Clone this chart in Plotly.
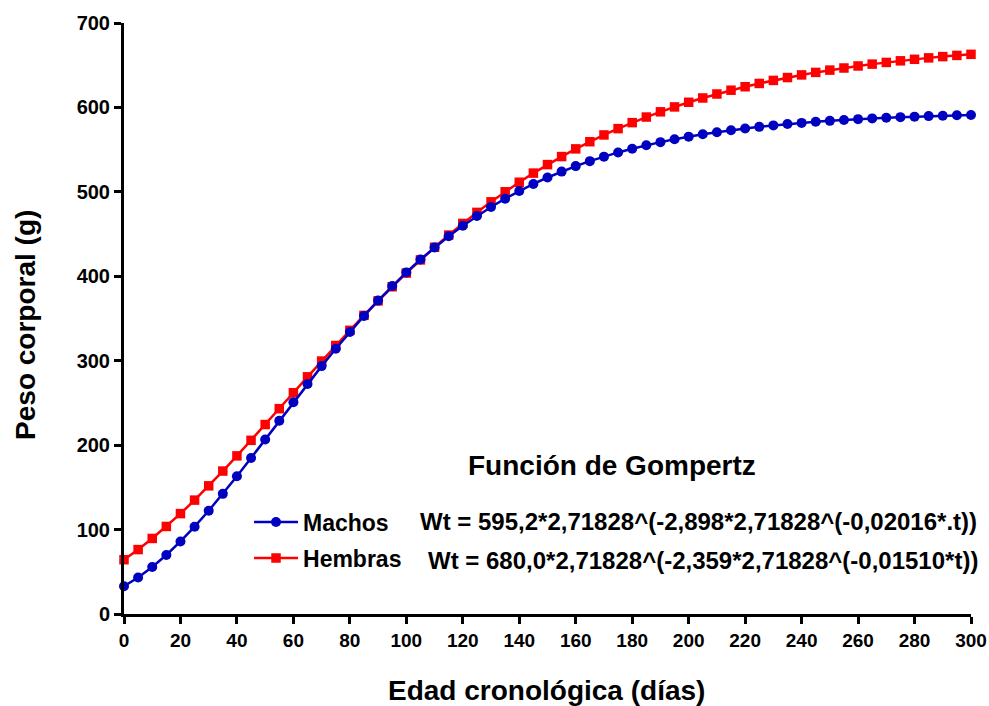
import plotly.graph_objects as go

# edad (días), cada 5 días
edad = list(range(0, 301, 5))

# peso corporal (g)
machos = [32.8, 43.3, 55.7, 69.9, 85.9, 103.4, 122.3, 142.3, 163.2, 184.8,
          206.7, 228.8, 250.8, 272.4, 293.6, 314.2, 334.1, 353.1, 371.2, 388.4,
          404.6, 419.9, 434.2, 447.5, 459.9, 471.4, 482.1, 491.9, 501.0, 509.4,
          517.0, 524.0, 530.5, 536.4, 541.7, 546.7, 551.1, 555.2, 558.9, 562.3,
          565.4, 568.2, 570.7, 573.0, 575.1, 577.0, 578.7, 580.3, 581.7, 583.0,
          584.1, 585.2, 586.1, 587.0, 587.8, 588.5, 589.1, 589.7, 590.2, 590.7,
          591.1]
hembras = [64.3, 76.3, 89.5, 103.7, 118.9, 134.9, 151.8, 169.3, 187.3, 205.7,
           224.4, 243.2, 262.1, 280.9, 299.6, 318.0, 336.0, 353.7, 370.9, 387.6,
           403.8, 419.4, 434.4, 448.8, 462.6, 475.7, 488.2, 500.1, 511.4, 522.2,
           532.3, 541.8, 550.9, 559.4, 567.4, 574.9, 582.0, 588.6, 594.8, 600.6,
           606.1, 611.2, 615.9, 620.4, 624.5, 628.4, 632.0, 635.4, 638.5, 641.5,
           644.2, 646.7, 649.1, 651.3, 653.3, 655.2, 657.0, 658.7, 660.2, 661.6,
           662.9]

formula_machos = "Wt = 595,2*2,71828^(-2,898*2,71828^(-0,02016*.t))"
formula_hembras = "Wt = 680,0*2,71828^(-2,359*2,71828^(-0,01510*t))"

fuente = "Liberation Sans, Arial, sans-serif"

fig = go.Figure()

fig.add_trace(go.Scatter(
    x=edad, y=hembras, mode="lines+markers", name="<b>Hembras</b>",
    line=dict(color="#ff0000", width=2.5),
    marker=dict(symbol="square", size=9.5, color="#ff0000"),
    legendgroup="h", legendrank=2, cliponaxis=False
))
fig.add_trace(go.Scatter(
    x=edad, y=machos, mode="lines+markers", name="<b>Machos</b>",
    line=dict(color="#0000c0", width=2.5),
    marker=dict(symbol="circle", size=10, color="#0000c0"),
    legendgroup="m", legendrank=1, cliponaxis=False
))

fig.update_layout(
    width=989, height=706,
    margin=dict(l=124, r=18, t=23, b=92),
    plot_bgcolor="white", paper_bgcolor="white",
    font=dict(family=fuente, color="black"),
    showlegend=True,
    legend=dict(
        x=0.1476, y=0.192, xanchor="left", yanchor="top",
        font=dict(size=23, family=fuente, color="black"),
        traceorder="grouped", tracegroupgap=3,
        bgcolor="rgba(0,0,0,0)", itemwidth=44
    ),
    xaxis=dict(
        range=[0, 300], tickmode="linear", tick0=0, dtick=20,
        showgrid=False, zeroline=False, automargin=False,
        showline=True, linecolor="black", linewidth=3,
        ticks="outside", ticklen=7, tickwidth=3, tickcolor="black",
        tickfont=dict(size=19, family=fuente),
        tickprefix="<b>", ticksuffix="</b>"
    ),
    yaxis=dict(
        range=[0, 700], tickmode="linear", tick0=0, dtick=100,
        showgrid=False, zeroline=False, automargin=False,
        showline=True, linecolor="black", linewidth=3,
        ticks="outside", ticklen=7, tickwidth=3, tickcolor="black",
        tickfont=dict(size=20, family=fuente),
        tickprefix="<b>", ticksuffix="</b>"
    ),
)

# títulos de ejes
fig.add_annotation(text="<b>Edad cronológica (días)</b>", xref="paper", yref="paper",
                   x=0.4994, y=-0.1286, xanchor="center", yanchor="middle",
                   showarrow=False, font=dict(size=28))
fig.add_annotation(text="<b>Peso corporal (g)</b>", xref="paper", yref="paper",
                   x=-0.117, y=0.489, xanchor="center", yanchor="middle",
                   textangle=-90, showarrow=False, font=dict(size=28))

# función de Gompertz
fig.add_annotation(text="<b>Función de Gompertz</b>", xref="paper", yref="paper",
                   x=0.576, y=0.252, xanchor="center", yanchor="middle",
                   showarrow=False, font=dict(size=28))
fig.add_annotation(text="<b>" + formula_machos + "</b>", xref="paper", yref="paper",
                   x=0.347, y=0.156, xanchor="left", yanchor="middle",
                   showarrow=False, font=dict(size=24))
fig.add_annotation(text="<b>" + formula_hembras + "</b>", xref="paper", yref="paper",
                   x=0.357, y=0.091, xanchor="left", yanchor="middle",
                   showarrow=False, font=dict(size=24))

# quitar el margen de la página para que el gráfico ocupe toda la ventana
fig.write_html("out.html",
               config={"displayModeBar": False},
               post_script="document.body.style.margin='0';document.body.style.overflow='hidden';")
